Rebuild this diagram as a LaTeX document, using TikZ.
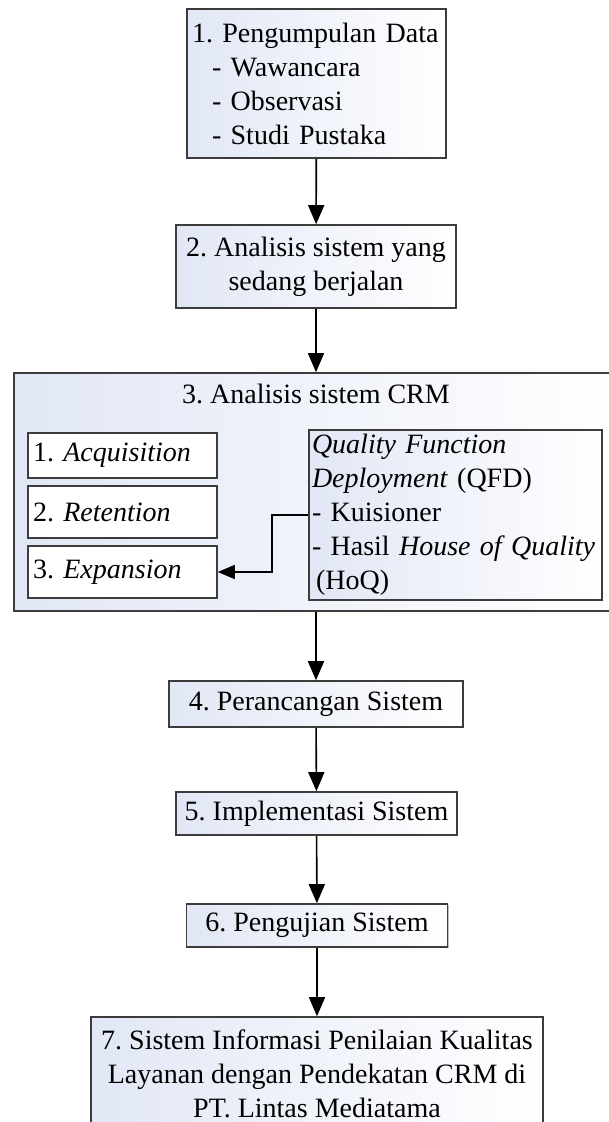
\documentclass[tikz,border=0pt]{standalone}
\usepackage{fontspec}
\setmainfont{Liberation Serif}
\usetikzlibrary{positioning,arrows.meta,shadows}
\definecolor{boxblue}{RGB}{225,231,245}
\definecolor{boxline}{RGB}{60,60,60}
\frenchspacing

\begin{document}
\begin{tikzpicture}[x=1pt,y=-1pt,
		font=\fontsize{28}{34}\selectfont,
		stepbox/.style={draw=boxline, line width=1.6pt, left color=boxblue, right color=white,
			inner sep=3pt, align=center,
			drop shadow={shadow xshift=1.2pt, shadow yshift=-1.2pt, opacity=0.25, fill=black}},
		subbox/.style={draw=boxline, line width=1.6pt, fill=white, inner sep=3pt, inner xsep=5pt,
			align=left, text width=179pt},
		flow/.style={-{Triangle[length=19pt,width=16pt]}, line width=1.6pt}]
		\useasboundingbox (0,0) rectangle (609,1122);
		\draw (316.5,83.5) node [stepbox, align=left, inner xsep=5pt, text width=249pt, minimum height=149pt] (kumpul)
			{1. Pengumpulan Data\\\hspace*{20pt}- Wawancara\\\hspace*{20pt}- Observasi\\\hspace*{20pt}- Studi Pustaka};
		\draw (316,266.5) node [stepbox, minimum width=280pt, minimum height=83pt] (jalan) {2. Analisis sistem yang\\sedang berjalan};
		\draw (316,492) node [stepbox, minimum width=604pt, minimum height=238pt] (crm) {};
		\node [inner sep=3pt, below=9pt of crm.north] (crmjudul) {3. Analisis sistem CRM};
		\draw (122.5,455.5) node [subbox, minimum height=45pt] (akuisisi) {1. \textit{Acquisition}};
		\draw (122.5,512) node [subbox, minimum height=52pt] (retensi) {2. \textit{Retention}};
		\draw (122.5,572) node [subbox, minimum height=52pt] (ekspansi) {3. \textit{Expansion}};
		\draw (455.5,515) node [subbox, left color=boxblue, right color=white, inner xsep=3pt, text width=287pt, minimum height=170pt] (qfd)
			{\textit{Quality Function}\\\textit{Deployment} (QFD)\\- Kuisioner\\- Hasil \textit{House of Quality}\\\hspace*{4pt}(HoQ)};
		\draw (316,704) node [stepbox, minimum width=294pt, minimum height=46pt] (rancang) {4. Perancangan Sistem};
		\draw (316.5,813.5) node [stepbox, minimum width=281pt, minimum height=43pt] (implementasi) {5. Implementasi Sistem};
		\draw (317,925.5) node [stepbox, minimum width=261pt, minimum height=43pt] (uji) {6. Pengujian Sistem};
		\draw (317,1074) node [stepbox, minimum width=452pt, minimum height=114pt] (hasil)
			{7. Sistem Informasi Penilaian Kualitas\\Layanan dengan Pendekatan CRM di\\PT. Lintas Mediatama};
		\path[flow]
			(kumpul) edge (jalan)
			(jalan) edge (crm)
			(crm) edge (rancang)
			(rancang) edge (implementasi)
			(implementasi) edge (uji)
			(uji) edge (hasil);
		\draw [flow, -{Triangle[length=17pt,width=14pt]}] (qfd.west) -- ++(-36,0) |- (ekspansi.east);
	\end{tikzpicture}
\end{document}
